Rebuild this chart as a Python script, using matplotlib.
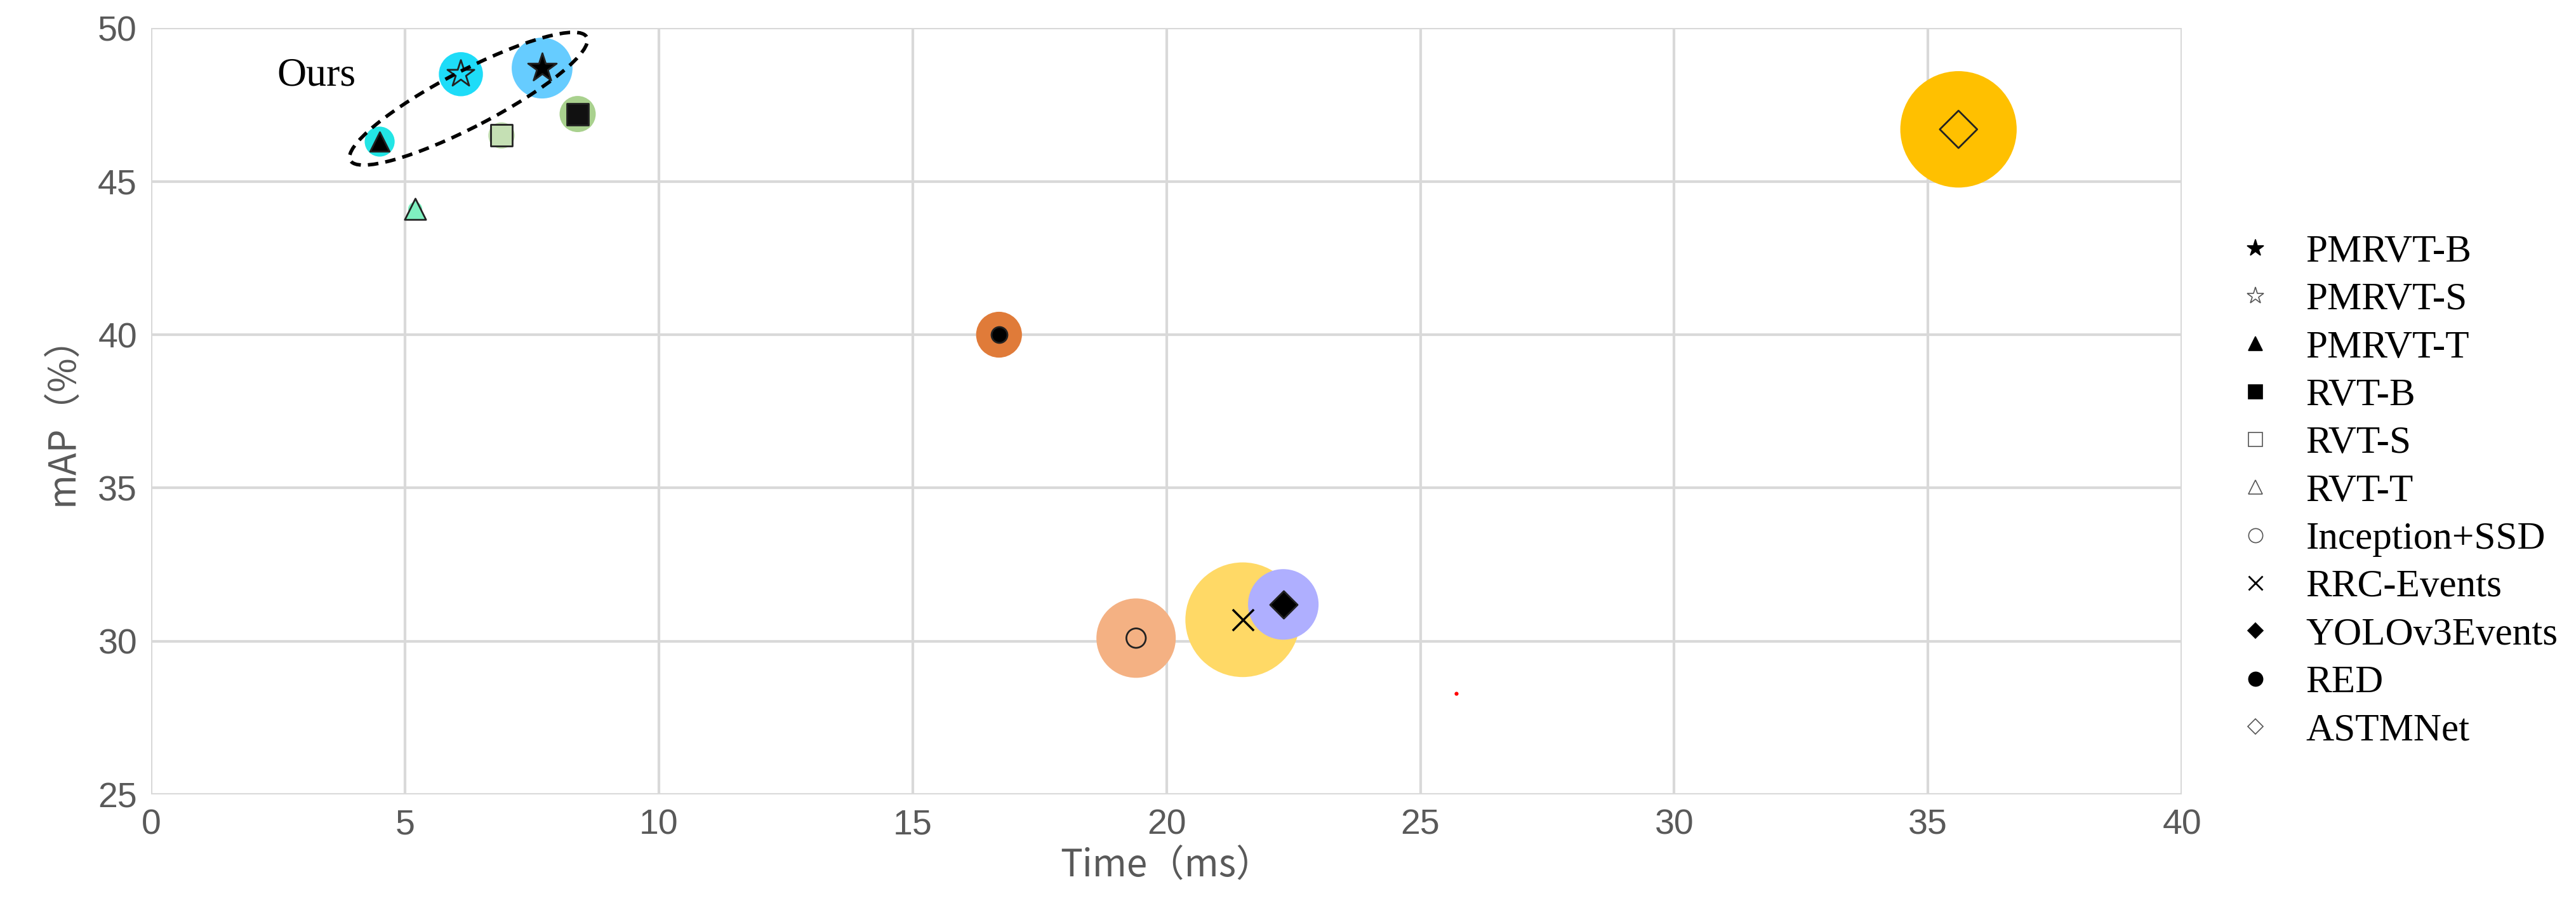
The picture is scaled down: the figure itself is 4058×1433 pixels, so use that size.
import matplotlib
matplotlib.use("Agg")
import matplotlib.pyplot as plt
from matplotlib.lines import Line2D
from matplotlib.patches import Ellipse
from matplotlib.transforms import IdentityTransform

names = ["PMRVT-B","PMRVT-S","PMRVT-T","RVT-B","RVT-S","RVT-T",
         "Inception+SSD","RRC-Events","YOLOv3Events","RED","ASTMNet"]
time_ms = [7.7, 6.1, 4.5, 8.4, 6.9, 5.2, 19.4, 21.5, 22.3, 16.7, 35.6]
map_pct = [48.7, 48.5, 46.3, 47.2, 46.5, 44.1, 30.1, 30.7, 31.2, 40.0, 46.7]
bubble_d = [69, 50, 34, 41, 30, 16, 90, 130, 80, 52, 132]  # points
bubble_c = ["#66CCFF","#1EDCF8","#22E5E5","#A9D18E","#C5E0B4","#7FF0C0",
            "#F4B183","#FFD966","#AFAFFF","#E07B39","#FFC000"]
markers = ["*","*","^","s","s","^","o","x","D","o","D"]
filled = [True, False, True, True, False, False, False, True, True, True, False]
msize = [34, 32, 22, 24, 24, 24, 22, 24, 22, 18, 30]
inner_fc = ["black","none","black","#111111","#C5E0B4","#7FF0C0","none","black","black","black","none"]

fig = plt.figure(figsize=(40.58, 14.33), dpi=100)
ax = fig.add_axes([0.0587, 0.127, 0.7883, 0.842])
ax.set_xlim(0, 40)
ax.set_ylim(25, 50)
ax.set_xticks(range(0, 41, 5))
ax.set_yticks(range(25, 51, 5))
ax.grid(True, color="#D9D9D9", lw=3)
ax.set_axisbelow(True)
for s in ax.spines.values():
    s.set_visible(False)
ax.tick_params(length=0, labelsize=40, labelcolor="#595959", pad=16)
for lab in ax.get_xticklabels() + ax.get_yticklabels():
    lab.set_family("Liberation Sans")

for i in range(len(names)):
    ax.scatter(time_ms[i], map_pct[i], s=bubble_d[i]**2, c=bubble_c[i],
               edgecolors="none", zorder=2)
for i in range(len(names)):
    if markers[i] == "x":
        ax.scatter(time_ms[i], map_pct[i], s=msize[i]**2, marker="x",
                   c="black", linewidths=2.5, zorder=3)
    else:
        ax.scatter(time_ms[i], map_pct[i], s=msize[i]**2, marker=markers[i],
                   facecolors=inner_fc[i], edgecolors="#222222",
                   linewidths=2, zorder=3)

# small red point
ax.scatter([25.7], [28.3], s=12, c="red", zorder=3)

# dashed ellipse for "Ours"
fig.canvas.draw()
cx, cy = ax.transData.transform((6.25, 47.7))
ell = Ellipse((cx, cy), 420, 88, angle=27.5, transform=IdentityTransform(),
              fill=False, ls=(0, (3, 2)), lw=4, ec="black", zorder=4)
fig.add_artist(ell)
ax.text(3.25, 48.45, "Ours", fontsize=46, family="Liberation Serif",
        ha="center", va="center")

ax.set_xlabel("Time（ms）", fontsize=42, color="#595959",
              family=["Noto Sans CJK SC", "DejaVu Sans"], labelpad=6)
ax.set_ylabel("mAP（%）", fontsize=42, color="#595959",
              family=["Noto Sans CJK SC", "DejaVu Sans"], labelpad=18)

handles = []
for i, n in enumerate(names):
    m = markers[i]
    fc = "black" if filled[i] else "white"
    ms = 20 if m == "*" else 16
    if m == "D":
        ms = 12
    handles.append(Line2D([], [], ls="none", marker=m, ms=ms,
                          mfc=fc, mec="black" if filled[i] else "#555555",
                          mew=2 if m == "x" else 1.2, label=n))
fig.legend(handles=handles, loc="center left",
           bbox_to_anchor=(0.853, 0.46), frameon=False,
           prop={"family": "Liberation Serif", "size": 44},
           labelspacing=0.32, handletextpad=0.7, handlelength=1.2)

fig.savefig("out.png", dpi=100)
